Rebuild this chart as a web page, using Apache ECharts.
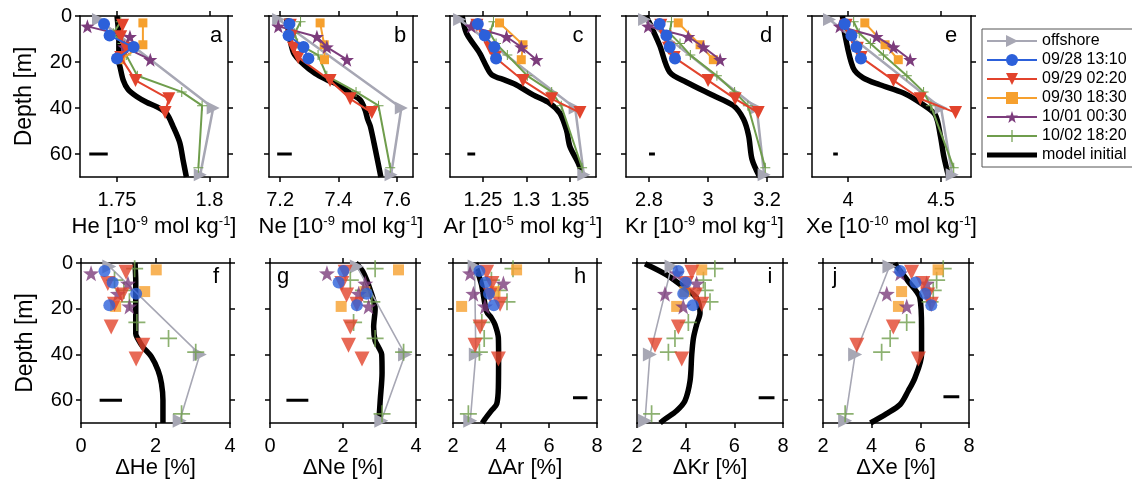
<!DOCTYPE html>
<html><head><meta charset="utf-8">
<script src="https://cdn.jsdelivr.net/npm/echarts@6/dist/echarts.min.js"></script>
<style>html,body{margin:0;padding:0;background:#fff}#c{width:1132px;height:483px}</style>
</head><body><div id="c"></div>
<script>
// ---------------- DATA ----------------
// panel order: a He, b Ne, c Ar, d Kr, e Xe, f dHe, g dNe, h dAr, i dKr, j dXe
const panelLetters = ['a','b','c','d','e','f','g','h','i','j'];
const xAxisNames = [
  'He [10{s|-9} mol kg{s|-1}]','Ne [10{s|-9} mol kg{s|-1}]','Ar [10{s|-5} mol kg{s|-1}]',
  'Kr [10{s|-9} mol kg{s|-1}]','Xe [10{s|-10} mol kg{s|-1}]',
  'ΔHe [%]','ΔNe [%]','ΔAr [%]','ΔKr [%]','ΔXe [%]'];
const xMin = [1.73, 7.162, 1.212, 2.722, 3.806, 0, 0, 2, 2, 2];
const xMax = [1.81, 7.655, 1.38, 3.254, 4.661, 4, 4, 8, 8, 8];
const xTicks = [[1.75,1.8],[7.2,7.4,7.6],[1.25,1.3,1.35],[2.8,3,3.2],[4,4.5],
  [0,2,4],[0,2,4],[2,4,6,8],[2,4,6,8],[2,4,6,8]];
const depthTicks = [0,20,40,60];
const seriesNames = ['offshore','09/28 13:10','09/29 02:20','09/30 18:30','10/01 00:30','10/02 18:20','model initial'];

const depthOffshore = [1.5, 40, 69];
const depth0928 = [3.5, 8.5, 13.5, 18.5];
const depth0929 = [4, 9, 14, 18, 28, 36, 42];
const depth0930 = [3, 12.5, 19];
const depth1001 = [4.5, 9, 13.5, 19];
const depth1002 = [2.5, 7.5, 12, 17, 26, 33, 39, 66];

const offshore = [
  [1.740, 1.802, 1.795],[7.195, 7.615, 7.580],[1.223, 1.356, 1.366],[2.785, 3.165, 3.19],[3.90, 4.50, 4.56],
  [0.76, 3.19, 2.65],[2.38, 3.70, 3.05],[2.90, 2.95, 2.72],[3.42, 2.53, 2.33],[4.73, 3.32, 2.91]];
const s0928 = [
  [1.743, 1.746, 1.759, 1.750],[7.232, 7.229, 7.280, 7.297],[1.244, 1.252, 1.263, 1.265],
  [2.836, 2.859, 2.870, 2.888],[3.982, 4.018, 4.045, 4.069],
  [0.63, 0.85, 1.48, 0.76],[2.01, 1.88, 2.65, 2.38],[3.10, 3.35, 3.50, 3.70],[3.70, 4.00, 3.90, 4.30],[5.17, 5.80, 6.20, 6.45]];
const s0929 = [
  [1.753, 1.752, 1.755, 1.752, 1.760, 1.778, 1.776],[7.235, 7.238, 7.246, 7.262, 7.371, 7.440, 7.514],
  [1.243, 1.252, 1.258, 1.264, 1.296, 1.329, 1.3615],[2.840, 2.855, 2.866, 2.885, 3.000, 3.092, 3.170],
  [3.99, 4.02, 4.05, 4.07, 4.244, 4.388, 4.578],
  [1.21, 0.72, 1.10, 0.90, 0.81, 1.66, 1.48],[2.06, 1.97, 2.10, 2.38, 2.20, 2.15, 2.52],
  [3.40, 3.62, 3.55, 3.96, 3.13, 2.92, 3.89],[4.25, 4.04, 4.40, 4.66, 3.70, 2.74, 3.84],
  [5.64, 6.10, 6.30, 6.45, 4.89, 3.39, 5.92]];
const s0930 = [
  [1.764, 1.764, 1.752],[7.337, 7.351, 7.352],[1.269, 1.296, 1.294],[2.899, 2.973, 3.018],[4.09, 4.199, 4.27],
  [2.02, 1.71, 0.93],[3.52, 2.60, 1.95],[4.65, 3.75, 2.36],[4.66, 3.97, 3.63],[6.73, 5.23, 5.10]];
const s1001 = [
  [1.734, 1.757, 1.754, 1.768],[7.194, 7.326, 7.360, 7.429],[1.2365, 1.277, 1.294, 1.3115],
  [2.797, 2.933, 2.984, 3.041],[3.955, 4.153, 4.244, 4.334],
  [0.27, 1.26, 0.99, 1.30],[1.56, 2.61, 2.43, 2.70],[2.71, 4.10, 2.85, 3.33],[3.63, 4.45, 3.15, 3.90],[5.17, 6.26, 4.62, 5.44]];
const s1002 = [
  [1.752, 1.748, 1.753, 1.755, 1.761, 1.785, 1.796, 1.794],[7.27, 7.25, 7.26, 7.33, 7.36, 7.46, 7.537, 7.577],
  [1.262, 1.258, 1.265, 1.278, 1.301, 1.329, 1.340, 1.364],[2.876, 2.870, 2.905, 2.940, 3.030, 3.090, 3.135, 3.194],
  [4.03, 4.06, 4.12, 4.19, 4.316, 4.406, 4.445, 4.568],
  [1.44, 0.90, 1.15, 1.30, 1.50, 2.35, 3.08, 2.70],[2.88, 2.20, 2.56, 2.79, 2.29, 2.88, 3.66, 3.07],
  [4.50, 3.60, 3.90, 4.25, 3.20, 3.30, 3.10, 2.64],[5.20, 4.73, 4.80, 5.00, 4.11, 3.56, 3.29, 2.60],
  [6.94, 6.67, 6.53, 6.40, 5.44, 4.76, 4.41, 2.91]];

const modelDepth = [
  [0,10,20,22,28,32,35,37.5,39.4,42.3,48,55,62.6,70],
  [1,6.6,16,21,25,27.7,30,33.6,36.5,40.9,45,48,58,70],
  [0,7.5,16,22,25.5,28,30,34.3,38,42.3,49.6,56.8,64,70],
  [0,4.7,12.7,24.4,28.8,34.6,39,44.8,52,62.3,70],
  [0,7.8,22.5,26.9,29.9,33.5,38.7,43,51.9,60.7,70],
  [0,8,31,33,36.7,41,47,52.7,60,70],
  [0,4,12,20,28,34,37,40,48,60,70],
  [0,2.3,9.6,21.2,24,27,32.8,40,54.5,61.7,64.6,68.3,70],
  [0.3,5.2,11,15.4,21.9,27,32.8,40,51.6,60.3,64.6,68.3,70],
  [0,1.5,8,15.3,28.4,40,50.2,56,61.9,66,70]];
const modelValue = [
  [1.750,1.751,1.751,1.7516,1.7534,1.756,1.7606,1.766,1.7713,1.7767,1.7803,1.7839,1.7857,1.7875],
  [7.222,7.229,7.246,7.28,7.32,7.36,7.40,7.44,7.474,7.491,7.50,7.509,7.526,7.545],
  [1.226,1.231,1.246,1.254,1.260,1.276,1.2885,1.3077,1.327,1.3385,1.346,1.350,1.3596,1.365],
  [2.79,2.808,2.836,2.87,2.927,3.018,3.086,3.12,3.1375,3.149,3.175],
  [3.97,3.982,4.027,4.081,4.171,4.298,4.406,4.469,4.496,4.514,4.541],
  [1.45,1.47,1.47,1.52,1.66,1.89,2.07,2.16,2.20,2.20],
  [2.35,2.55,2.75,2.88,2.84,2.88,2.98,3.06,3.07,3.02,2.98],
  [2.95,2.99,3.19,3.40,3.60,3.75,3.89,3.90,3.89,3.82,3.60,3.33,3.22],
  [2.33,3.22,3.97,4.45,4.59,4.45,4.32,4.25,4.18,3.97,3.63,3.15,2.95],
  [4.95,5.03,5.50,5.98,6.05,6.05,5.78,5.50,5.17,4.60,3.95]];

// measurement uncertainty bars
const errLow = [1.735, 7.19, 1.232, 2.80, 3.92, 0.5, 0.45, 7.0, 7.0, 6.95];
const errHigh = [1.745, 7.24, 1.241, 2.82, 3.945, 1.1, 1.05, 7.6, 7.65, 7.6];
const errDepth = [60, 60, 60, 60, 60, 60, 60, 59, 59, 58.5];

// ---------------- STYLE / LAYOUT ----------------
const FONT = '"Liberation Sans", Arial, Helvetica, sans-serif';
const gridPos = [
  [80,16,148,161],[269,16,144,161],[450,16,146,161],[626,16,157,161],[812,16,159,161],
  [81,263,149,160],[270,263,146,160],[453,263,144,160],[637,263,146,160],[823,263,146,160]];
const letterPos = [[216,36],[400,36],[578,36],[766,36],[951,36],[216,277],[283,277],[580,277],[770,277],[835,277]];
const STAR = 'path://M50,2 L61.8,35.8 L97.6,36.5 L69,58.2 L79.4,92.5 L50,72 L20.6,92.5 L31,58.2 L2.4,36.5 L38.2,35.8 Z';
const PLUS = 'path://M45,0 L55,0 L55,45 L100,45 L100,55 L55,55 L55,100 L45,100 L45,55 L0,55 L0,45 L45,45 Z';
const BAR = 'path://M0,0 L1,0 L1,1 Z M0,36 L500,36 L500,84 L0,84 Z M499,119 L500,119 L500,120 Z';
const C = {off:'#a7a7b4', b:'#2c60da', r:'#e2432c', o:'#f6a02e', p:'#7c3c7c', g:'#6f9d4c'};

const xAxes = [], yAxes = [], series = [];
const axLine = {show:true, onZero:false, lineStyle:{color:'#000', width:1.5}};
for (let p = 0; p < 10; p++) {
  const top = p < 5;
  const base = {type:'value', gridIndex:p, min:xMin[p], max:xMax[p], splitLine:{show:false}, axisLine:axLine,
    axisTick:{show:true, length:5, customValues:xTicks[p], lineStyle:{color:'#000', width:1.5}}};
  xAxes.push(Object.assign({}, base, {position:'bottom',
    axisLabel:{show:true, customValues:xTicks[p], margin:13, fontSize:20, color:'#000', fontFamily:FONT},
    name:xAxisNames[p], nameLocation:'middle', nameGap: top ? 38 : 34,
    nameTextStyle:{fontSize:22, color:'#000', fontFamily:FONT,
      rich:{s:{fontSize:13, color:'#000', fontFamily:FONT, padding:[0,0,10,0]}}}}));
  xAxes.push(Object.assign({}, base, {position:'top', axisLabel:{show:false}}));
  const yb = {type:'value', gridIndex:p, min:0, max:70, inverse:true, splitLine:{show:false}, axisLine:axLine,
    axisTick:{show:true, length:5, customValues:depthTicks, lineStyle:{color:'#000', width:1.5}}};
  const withLab = (p === 0 || p === 5);
  yAxes.push(Object.assign({}, yb, {position:'left',
    axisLabel:{show:withLab, customValues:depthTicks, margin:8, fontSize:20, color:'#000', fontFamily:FONT},
    name: withLab ? 'Depth [m]' : '', nameLocation:'middle', nameGap:44, nameRotate:90,
    nameTextStyle:{fontSize:23, color:'#000', fontFamily:FONT}}));
  yAxes.push(Object.assign({}, yb, {position:'right', axisLabel:{show:false}}));
}

function pts(depths, vals) { return depths.map((d, i) => [vals[i], d]); }
function addSeries(p, name, depths, vals, o) {
  const top = p < 5;
  const isLine = top || o.alwaysLine;
  const s = {
    name, type: isLine ? 'line' : 'scatter', xAxisIndex: 2*p, yAxisIndex: 2*p,
    data: pts(depths, vals), symbol: o.symbol, symbolSize: top ? o.sizeTop : o.sizeBot,
    symbolRotate: o.rotate || 0, itemStyle:{color:o.color}, silent:true, clip:false, z: o.z
  };
  if (isLine) {
    s.lineStyle = {color:o.color, width: top ? o.lw : (o.lwBot || o.lw)};
    s.showSymbol = o.symbol !== 'none'; s.smooth = o.smooth || false;
  }
  series.push(s);
}

for (let p = 0; p < 10; p++) {
  addSeries(p, seriesNames[6], modelDepth[p], modelValue[p], {symbol:'none', color:'#000', lw:5.5, alwaysLine:true, smooth:0.3, z:2});
  addSeries(p, seriesNames[0], depthOffshore, offshore[p], {symbol:'triangle', rotate:-90, color:C.off, lw:2.5, lwBot:1.6, sizeTop:13, sizeBot:14, alwaysLine:true, z:3});
  addSeries(p, seriesNames[5], depth1002, s1002[p], {symbol:PLUS, color:C.g, lw:2, sizeTop:10, sizeBot:17, z:4});
  addSeries(p, seriesNames[3], depth0930, s0930[p], {symbol:'rect', color:C.o, lw:2, sizeTop:9, sizeBot:11, z:5});
  addSeries(p, seriesNames[4], depth1001, s1001[p], {symbol:STAR, color:C.p, lw:2, sizeTop:14, sizeBot:16, z:6});
  addSeries(p, seriesNames[2], depth0929, s0929[p], {symbol:'triangle', rotate:180, color:C.r, lw:2, sizeTop:13, sizeBot:15, z:7});
  addSeries(p, seriesNames[1], depth0928, s0928[p], {symbol:'circle', color:C.b, lw:2, sizeTop:12, sizeBot:12, z:8});
  series.push({name:'err', type:'line', xAxisIndex:2*p, yAxisIndex:2*p, symbol:'none', silent:true,
    data:[[errLow[p], errDepth[p]],[errHigh[p], errDepth[p]]], lineStyle:{color:'#000', width:3}, z:9});
}

const graphic = panelLetters.map((t, i) => ({type:'text', x:letterPos[i][0], y:letterPos[i][1], silent:true,
  style:{text:t, fontSize:22, fontFamily:FONT, fill:'#000', align:'center', verticalAlign:'middle'}}));

const legendData = seriesNames.map(n => n === 'model initial' ? {name:n, icon:BAR, itemStyle:{color:'#000'}} : {name:n});

const option = {
  animation:false, backgroundColor:'#fff', textStyle:{fontFamily:FONT},
  grid: gridPos.map(g => ({left:g[0], top:g[1], width:g[2], height:g[3], containLabel:false, outerBoundsMode:'none'})),
  xAxis:xAxes, yAxis:yAxes, series, graphic,
  legend:{data:legendData, orient:'vertical', left:982, top:29, padding:[4,6,4,4], itemGap:3,
    itemWidth:50, itemHeight:15, borderColor:'#555', borderWidth:1, selectedMode:false,
    textStyle:{fontSize:16, color:'#000', fontFamily:FONT}}
};
const chart = echarts.init(document.getElementById('c'), null, {renderer:'canvas'});
chart.setOption(option);
</script></body></html>
